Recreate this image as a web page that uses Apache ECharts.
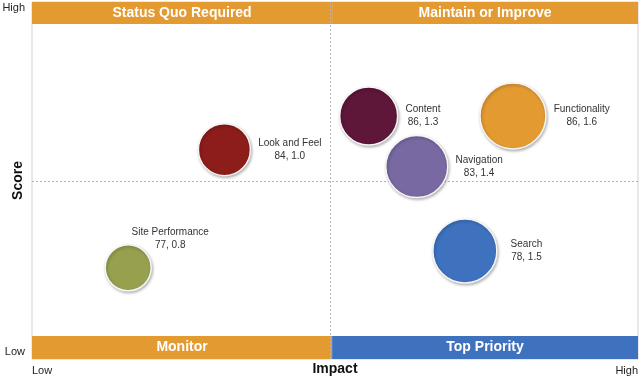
<!DOCTYPE html>
<html><head><meta charset="utf-8">
<script src="https://cdn.jsdelivr.net/npm/echarts@6/dist/echarts.min.js"></script>
<style>html,body{margin:0;padding:0;background:#fff}#c{width:640px;height:385px}</style>
</head><body><div id="c"></div>
<script>
// ---- data ----
const names = ['Look and Feel', 'Content', 'Navigation', 'Functionality', 'Search', 'Site Performance'];
const scores = [84, 86, 83, 86, 78, 77];
const impacts = [1.0, 1.3, 1.4, 1.6, 1.5, 0.8];
const bubbleWeights = [26, 29, 31, 33, 32, 23];
const quadrantNames = ['Status Quo Required', 'Maintain or Improve', 'Monitor', 'Top Priority'];
const xTickLabels = ['Low', 'High'];
const yTickLabels = ['Low', 'High'];

// ---- axis setup ----
const xMin = 0.6, xMax = 1.86, xMid = 1.224;
const yMin = 71.6, yMax = 92.75, yMid = 82.15;
const bandTop = 91.45, bandBottom = 72.96;
const yLabelVals = [72.01, 92.39];
const xLabelVals = [xMin, xMax];

const palette = ['#8c1d1a', '#5e1639', '#7869a2', '#e39a31', '#3e72bf', '#96a04f'];
const bandOrange = '#e39a31', bandBlue = '#3e72bf';
const FONT = '"Liberation Sans", Arial, Helvetica, sans-serif';

const labelOverrides = {
  'Search': { distance: 13 },
  'Site Performance': { position: 'top', distance: 0, offset: [42, 8] }
};

const seriesData = names.map((n, i) => {
  const item = {
    name: n,
    value: [impacts[i], scores[i], bubbleWeights[i]],
    itemStyle: { color: palette[i] }
  };
  if (labelOverrides[n]) item.label = labelOverrides[n];
  return item;
});

function nearestLabel(vals, labels, v) {
  let best = 0;
  for (let i = 1; i < vals.length; i++) if (Math.abs(vals[i] - v) < Math.abs(vals[best] - v)) best = i;
  return labels[best];
}

const bandLabel = (txt) => ({
  show: true, position: 'inside', formatter: txt,
  color: '#fff', fontSize: 14, fontWeight: 'bold', fontFamily: FONT
});

const chart = echarts.init(document.getElementById('c'), null, { renderer: 'canvas' });
chart.setOption({
  animation: false,
  backgroundColor: '#fff',
  grid: { left: 32, right: 2, top: 2, bottom: 26, show: true, borderColor: '#d2d2d2', borderWidth: 1, containLabel: false, outerBoundsMode: 'none' },
  xAxis: {
    type: 'value', min: xMin, max: xMax,
    name: 'Impact', nameLocation: 'middle', nameGap: 3, nameMoveOverlap: false,
    nameTextStyle: { fontSize: 14, fontWeight: 'bold', color: '#111', fontFamily: FONT },
    axisLine: { show: false }, axisTick: { show: false }, splitLine: { show: false },
    axisLabel: {
      show: true,
      customValues: xLabelVals,
      showMinLabel: true, showMaxLabel: true, hideOverlap: false,
      formatter: (v) => nearestLabel(xLabelVals, xTickLabels, v),
      alignMinLabel: 'left', alignMaxLabel: 'right',
      margin: 6, fontSize: 11, color: '#222', fontFamily: FONT
    }
  },
  yAxis: {
    type: 'value', min: yMin, max: yMax,
    name: 'Score', nameLocation: 'middle', nameGap: 7, nameMoveOverlap: false,
    nameTextStyle: { fontSize: 14, fontWeight: 'bold', color: '#111', fontFamily: FONT },
    axisLine: { show: false }, axisTick: { show: false }, splitLine: { show: false },
    axisLabel: {
      show: true,
      customValues: yLabelVals,
      showMinLabel: true, showMaxLabel: true, hideOverlap: false,
      formatter: (v) => nearestLabel(yLabelVals, yTickLabels, v),
      margin: 7, fontSize: 11, color: '#222', fontFamily: FONT
    }
  },
  series: [
    {
      type: 'scatter', silent: true, data: [],
      markArea: {
        silent: true,
        data: [
          [{ coord: [xMin, bandTop], itemStyle: { color: bandOrange }, label: bandLabel(quadrantNames[0]) }, { coord: [xMid, yMax] }],
          [{ coord: [xMid, bandTop], itemStyle: { color: bandOrange }, label: bandLabel(quadrantNames[1]) }, { coord: [xMax, yMax] }],
          [{ coord: [xMin, yMin], itemStyle: { color: bandOrange }, label: bandLabel(quadrantNames[2]) }, { coord: [xMid, bandBottom] }],
          [{ coord: [xMid, yMin], itemStyle: { color: bandBlue }, label: bandLabel(quadrantNames[3]) }, { coord: [xMax, bandBottom] }]
        ]
      },
      markLine: {
        silent: true, symbol: 'none', label: { show: false },
        lineStyle: { type: [2, 2], color: '#b5b5b5', width: 1 },
        data: [{ xAxis: xMid }, { yAxis: yMid }]
      }
    },
    {
      type: 'scatter',
      data: seriesData,
      symbolSize: (v) => v[2] * 2,
      itemStyle: {
        opacity: 1, borderColor: '#f6f6f6', borderWidth: 1.5,
        shadowBlur: 3, shadowColor: 'rgba(0,0,0,0.28)', shadowOffsetX: 1, shadowOffsetY: 1.5
      },
      label: {
        show: true, position: 'right', distance: 7,
        formatter: (p) => '{n|' + p.name + '}\n{n|' + p.value[1] + ', ' + p.value[0].toFixed(1) + '}',
        rich: { n: { align: 'center', fontSize: 10, lineHeight: 13, color: '#333', fontFamily: FONT } }
      },
      z: 5
    }
  ]
});
</script>
</body></html>
